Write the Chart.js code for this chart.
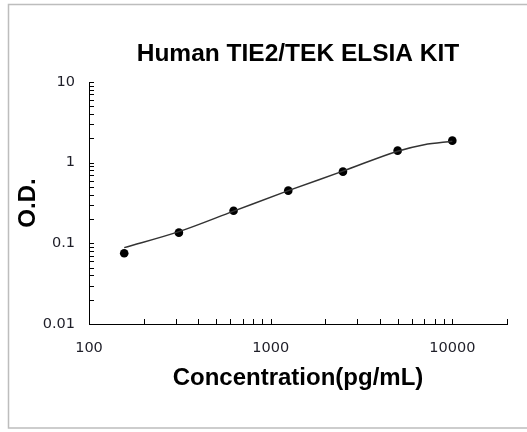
<!DOCTYPE html>
<html><head><meta charset="utf-8">
<script src="https://cdn.jsdelivr.net/npm/chart.js@4.4.1/dist/chart.umd.min.js"></script>
<style>html,body{margin:0;padding:0;background:#fff}#wrap{width:527px;height:432px}</style>
</head><body><div id="wrap"><canvas id="c" width="527" height="432"></canvas></div>
<script>
const concentrations = [156.25, 312.5, 625, 1250, 2500, 5000, 10000];
const odValues = [0.0755, 0.1356, 0.254, 0.450, 0.774, 1.409, 1.874];
const curveX = [156.25, 312.5, 625, 1250, 2500, 5000, 7000, 10000];
const curveY = [0.0885, 0.1396, 0.2506, 0.450, 0.785, 1.388, 1.671, 1.846];
const xTickValues = [100, 1000, 10000];
const xTickLabels = ['100', '1000', '10000'];
const yTickValues = [0.01, 0.1, 1, 10];
const yTickLabels = ['0.01', '0.1', '1', '10'];
const xRange = [100, 20000];
const yRange = [0.01, 10];

function logMinor(min, max) {
  const out = [];
  for (let d = Math.pow(10, Math.floor(Math.log10(min))); d <= max; d *= 10) {
    for (let m = 1; m <= 9; m++) {
      const v = d * m;
      if (v >= min * 0.999 && v <= max * 1.001) out.push(v);
    }
  }
  return out;
}

const framePlugin = {
  id: 'frame',
  beforeDraw(chart) {
    const ctx = chart.ctx;
    ctx.save();
    ctx.fillStyle = '#fff';
    ctx.fillRect(0, 0, chart.width, chart.height);
    ctx.strokeStyle = '#bdbdbd';
    ctx.lineWidth = 1.5;
    ctx.strokeRect(8.5, 4.5, 560, 423.5);
    ctx.restore();
  }
};

const tickPlugin = {
  id: 'inTicks',
  afterDatasetsDraw(chart) {
    const ctx = chart.ctx;
    const xs = chart.scales.x, ys = chart.scales.y;
    const a = chart.chartArea;
    ctx.save();
    ctx.strokeStyle = '#000';
    ctx.lineWidth = 1;
    ctx.beginPath();
    logMinor(xRange[0], xRange[1]).forEach(v => {
      const px = Math.round(xs.getPixelForValue(v)) + 0.5;
      ctx.moveTo(px, a.bottom);
      ctx.lineTo(px, a.bottom - 5);
    });
    logMinor(yRange[0], yRange[1]).forEach(v => {
      const py = Math.round(ys.getPixelForValue(v)) + 0.5;
      ctx.moveTo(a.left, py);
      ctx.lineTo(a.left + 5, py);
    });
    ctx.stroke();
    ctx.restore();
  }
};

new Chart(document.getElementById('c'), {
  type: 'scatter',
  data: {
    datasets: [
      {
        label: 'fit',
        data: curveX.map((x, i) => ({x: x, y: curveY[i]})),
        showLine: true,
        borderColor: '#333',
        borderWidth: 1.5,
        pointRadius: 0,
        cubicInterpolationMode: 'monotone',
        fill: false
      },
      {
        label: 'OD',
        data: concentrations.map((x, i) => ({x: x, y: odValues[i]})),
        showLine: false,
        pointRadius: 4.3,
        pointBackgroundColor: '#000',
        pointBorderColor: '#000',
        pointBorderWidth: 0
      }
    ]
  },
  options: {
    responsive: false,
    devicePixelRatio: 1,
    animation: false,
    events: [],
    layout: { padding: { left: 0, right: 20, top: 0, bottom: 0 } },
    plugins: {
      legend: { display: false },
      tooltip: { enabled: false },
      title: {
        display: true,
        text: 'Human TIE2/TEK ELSIA KIT',
        fullSize: false,
        color: '#000',
        font: { family: '"Liberation Sans", Arial, sans-serif', size: 24.5, weight: 'bold' },
        padding: { top: 40, bottom: 12.6 }
      }
    },
    scales: {
      x: {
        type: 'logarithmic',
        min: xRange[0], max: xRange[1],
        afterBuildTicks: s => { s.ticks = xTickValues.map(v => ({value: v})); },
        afterFit: s => { s.height = 108; },
        grid: { display: false, drawTicks: false },
        border: { display: true, color: '#000', width: 1 },
        ticks: {
          autoSkip: false, maxRotation: 0, padding: 16,
          color: '#1e1e28',
          font: { family: '"DejaVu Sans", sans-serif', size: 14.5 },
          callback: (v, i) => xTickLabels[i]
        },
        title: {
          display: true,
          text: 'Concentration(pg/mL)',
          color: '#000',
          font: { family: '"Liberation Sans", Arial, sans-serif', size: 24, weight: 'bold' },
          padding: { top: 0, bottom: 39 }
        }
      },
      y: {
        type: 'logarithmic',
        min: yRange[0], max: yRange[1],
        afterBuildTicks: s => { s.ticks = yTickValues.map(v => ({value: v})); },
        afterFit: s => { s.width = 89; },
        grid: { display: false, drawTicks: false },
        border: { display: true, color: '#000', width: 1 },
        ticks: {
          autoSkip: false, padding: 14,
          color: '#1e1e28',
          font: { family: '"DejaVu Sans", sans-serif', size: 14.5 },
          callback: (v, i) => yTickLabels[i]
        },
        title: {
          display: true,
          text: 'O.D.',
          color: '#000',
          font: { family: '"Liberation Sans", Arial, sans-serif', size: 24, weight: 'bold' },
          padding: { top: 14, bottom: 0 }
        }
      }
    }
  },
  plugins: [framePlugin, tickPlugin]
});
</script>
</body></html>
